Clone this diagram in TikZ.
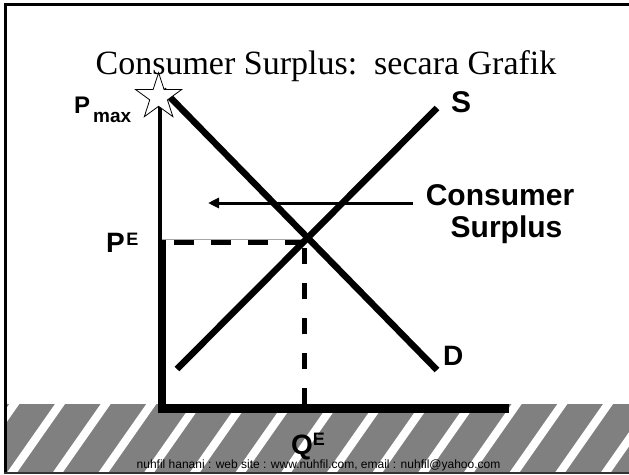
\documentclass[tikz,border=0pt]{standalone}
\usepackage{fontspec}
\setmainfont{Liberation Serif}
\newfontfamily\arial{Liberation Sans}
\usetikzlibrary{arrows.meta}
\definecolor{bandgray}{RGB}{128,128,128}
\tikzset{
  lbl/.style={font=\arial\bfseries\fontsize{28}{30}\selectfont, inner sep=0pt, anchor=base west},
  cslbl/.style={font=\arial\bfseries\fontsize{30}{32}\selectfont, inner sep=0pt, anchor=base},
  curve/.style={line width=6.5pt},
  dashline/.style={line width=5pt},
}
\begin{document}
\begin{tikzpicture}[x=1pt,y=-1pt]
\useasboundingbox (0,0) rectangle (629,474);
% frame
\fill[white] (0,0) rectangle (629,474);
\fill[bandgray] (6.5,404) rectangle (629,472);
\begin{scope}
  \clip (6.5,404) rectangle (629,472);
  \foreach \k in {-1,...,13} {
    \fill[white] ({60+45.67*\k-5},404) -- ({60+45.67*\k+5},404)
      -- ({60+45.67*\k+5-47.6},472) -- ({60+45.67*\k-5-47.6},472) -- cycle;
  }
\end{scope}
\fill[black] (4,3) rectangle (629,5.5);
\fill[black] (4,3) rectangle (6.5,472);
\fill[black!80] (4,471.5) rectangle (629,474);
% title
\node[font=\fontsize{34}{36}\selectfont, inner sep=0pt, anchor=base] (title) at (326,74) {Consumer Surplus:\ \ secara Grafik};
% footer
\node[font=\arial\fontsize{12}{12}\selectfont, inner sep=0pt, anchor=base] (footer) at (318.5,468) {nuhfil hanani : web site : www.nuhfil.com, email : nuhfil@yahoo.com};
% coordinates
\coordinate (top) at (160,97);
\coordinate (pe) at (160,240);
\coordinate (origin) at (162,413);
\coordinate (xend) at (509,408.5);
\coordinate (eq) at (304,240);
\coordinate (qe) at (304,404);
\coordinate (sLow) at (177,369);
\coordinate (sHigh) at (437,108);
\coordinate (dHigh) at (163,90);
\coordinate (dLow) at (437,370);
\coordinate (arrStart) at (413,203);
\coordinate (arrEnd) at (208,203);
% surplus triangle thin edge
\draw[gray!70, line width=1pt] (162,239) -- (305,239);
% axes
\draw[line width=4pt] (top) -- (pe);
\draw[line width=8.5pt] (162,240) -- (origin);
\draw[line width=9pt] (158,408.5) -- (xend);
% dashed lines
\draw[dashline, dash pattern=on 20pt off 17pt] (305,242.5) -- (166,242.5);
\draw[dashline, dash pattern=on 16pt off 19pt] (qe) -- (304,242);
% supply and demand
\draw[curve] (sLow) -- (sHigh);
\draw[curve] (dHigh) -- (dLow);
% star
\draw[fill=white, line width=0.8pt] (158.6,72.7)
  \foreach \k in {1,...,9} { -- ({158.6+ifthenelse(mod(\k,2)==0,24.3,9.3)*sin(36*\k)},{97-ifthenelse(mod(\k,2)==0,24.3,9.3)*cos(36*\k)}) } -- cycle;
% arrow
\draw[line width=3pt, -{Triangle[length=11pt,width=10pt]}] (arrStart) -- (arrEnd);
% labels
\node[lbl, font=\arial\bfseries\fontsize{24}{26}\selectfont] (pmax) at (74,113) {P\hspace{3pt}\raisebox{-9pt}{\fontsize{19}{19}\selectfont max}};
\node[lbl] (plabel) at (106,252) {P\hspace{1.5pt}\raisebox{7pt}{\fontsize{18}{18}\selectfont E}};
\node[lbl] (qlabel) at (291,454) {Q\raisebox{9pt}{\fontsize{18}{18}\selectfont E}};
\node[lbl, font=\arial\bfseries\fontsize{30}{32}\selectfont] (slabel) at (451,112) {S};
\node[lbl] (dlabel) at (443,365) {D};
\node[cslbl] (cs1) at (500,205) {Consumer};
\node[cslbl] (cs2) at (506.5,237) {Surplus};
\end{tikzpicture}
\end{document}
